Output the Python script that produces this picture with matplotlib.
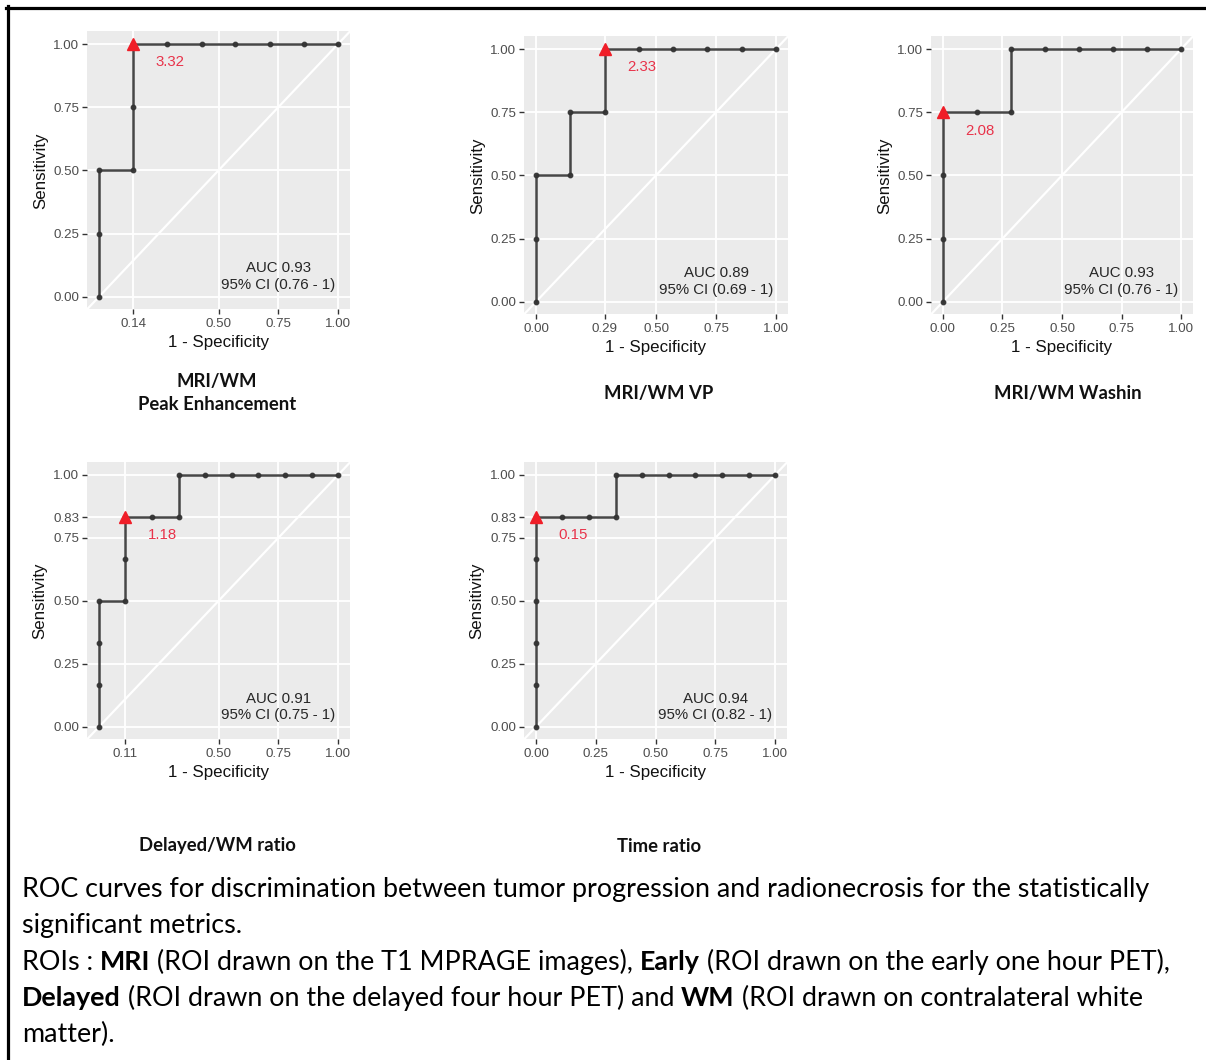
import numpy as np
import matplotlib.pyplot as plt
from matplotlib.lines import Line2D

W, H = 1206, 1060

# ---- data ----
titles = ["MRI/WM\nPeak Enhancement", "MRI/WM VP", "MRI/WM Washin",
          "Delayed/WM ratio", "Time ratio"]

fpr_pe = [0, 0, 0, 0.143, 0.143, 0.143, 0.286, 0.429, 0.571, 0.714, 0.857, 1.0]
tpr_pe = [0, 0.25, 0.5, 0.5, 0.75, 1, 1, 1, 1, 1, 1, 1]
fpr_vp = [0, 0, 0, 0.143, 0.143, 0.286, 0.286, 0.429, 0.571, 0.714, 0.857, 1.0]
tpr_vp = [0, 0.25, 0.5, 0.5, 0.75, 0.75, 1, 1, 1, 1, 1, 1]
fpr_wash = [0, 0, 0, 0, 0.143, 0.286, 0.286, 0.429, 0.571, 0.714, 0.857, 1.0]
tpr_wash = [0, 0.25, 0.5, 0.75, 0.75, 0.75, 1, 1, 1, 1, 1, 1]
fpr_del = [0, 0, 0, 0, 0.111, 0.111, 0.111, 0.222, 0.333, 0.333,
           0.444, 0.556, 0.667, 0.778, 0.889, 1.0]
tpr_del = [0, 0.167, 0.333, 0.5, 0.5, 0.667, 0.833, 0.833, 0.833, 1,
           1, 1, 1, 1, 1, 1]
fpr_time = [0, 0, 0, 0, 0, 0, 0.111, 0.222, 0.333, 0.333,
            0.444, 0.556, 0.667, 0.778, 0.889, 1.0]
tpr_time = [0, 0.167, 0.333, 0.5, 0.667, 0.833, 0.833, 0.833, 0.833, 1,
            1, 1, 1, 1, 1, 1]

fprs = [fpr_pe, fpr_vp, fpr_wash, fpr_del, fpr_time]
tprs = [tpr_pe, tpr_vp, tpr_wash, tpr_del, tpr_time]

best_fpr = [0.143, 0.286, 0.0, 0.111, 0.0]
best_tpr = [1.0, 1.0, 0.75, 0.833, 0.833]
best_label = ["3.32", "2.33", "2.08", "1.18", "0.15"]

auc = [0.93, 0.89, 0.93, 0.91, 0.94]
ci = ["0.76 - 1", "0.69 - 1", "0.76 - 1", "0.75 - 1", "0.82 - 1"]

xticks = [[0.143, 0.5, 0.75, 1.0],
          [0.0, 0.286, 0.5, 0.75, 1.0],
          [0.0, 0.25, 0.5, 0.75, 1.0],
          [0.111, 0.5, 0.75, 1.0],
          [0.0, 0.25, 0.5, 0.75, 1.0]]
yticks = [[0.0, 0.25, 0.5, 0.75, 1.0],
          [0.0, 0.25, 0.5, 0.75, 1.0],
          [0.0, 0.25, 0.5, 0.75, 1.0],
          [0.0, 0.25, 0.5, 0.75, 0.833, 1.0],
          [0.0, 0.25, 0.5, 0.75, 0.833, 1.0]]

caption = [
    [("ROC curves for discrimination between tumor progression and radionecrosis for the statistically", False)],
    [("significant metrics.", False)],
    [("ROIs : ", False), ("MRI", True), (" (ROI drawn on the T1 MPRAGE images), ", False),
     ("Early", True), (" (ROI drawn on the early one hour PET),", False)],
    [("Delayed", True), (" (ROI drawn on the delayed four hour PET) and ", False),
     ("WM", True), (" (ROI drawn on contralateral white", False)],
    [("matter).", False)],
]

# ---- layout (pixels: left, top, width, height) ----
boxes = [(87, 31.4, 263, 278), (524, 36.4, 264, 278), (931, 36.4, 262, 278),
         (87, 462.4, 263, 277), (524, 462.4, 263, 277)]
title_pos = [(217, 393), (659, 393), (1068, 393), (217, 846), (659, 846)]

GG = "Liberation Sans"
CAP = "Lato"

plt.rcParams['font.family'] = [GG, 'DejaVu Sans']

fig = plt.figure(figsize=(W / 100, H / 100), dpi=100)
fig.patch.set_facecolor('white')

for i in range(5):
    l, t, w, h = boxes[i]
    ax = fig.add_axes([l / W, 1 - (t + h) / H, w / W, h / H])
    ax.set_facecolor('#EBEBEB')
    for s in ax.spines.values():
        s.set_visible(False)
    ax.set_xlim(-0.05, 1.05)
    ax.set_ylim(-0.05, 1.05)
    ax.set_xticks(xticks[i])
    ax.set_xticklabels(["%.2f" % v for v in xticks[i]])
    ax.set_yticks(yticks[i])
    ax.set_yticklabels(["%.2f" % v for v in yticks[i]])
    ax.grid(color='white', lw=1.3)
    ax.set_axisbelow(True)
    ax.tick_params(length=3.5, width=1, color='#333333', labelcolor='#4D4D4D',
                   labelsize=9.6, pad=2)
    ax.tick_params(axis='x', pad=3)
    ax.axline((0, 0), (1, 1), color='white', lw=1.6, zorder=1)

    ax.plot(fprs[i], tprs[i], color='#333333', lw=1.8, marker='o', ms=3.2,
            zorder=3, alpha=0.9)
    ax.plot(best_fpr[i], best_tpr[i], marker='^', ms=8, color='#F01E28',
            ls='none', zorder=4)
    ax.text(best_fpr[i] + 0.155, best_tpr[i] - 0.073, best_label[i],
            color='#E8334A', fontsize=10.8, ha='center', va='center')
    ax.text(0.75, 0.08, "AUC %.2f\n95%% CI (%s)" % (auc[i], ci[i]),
            color='#262626', fontsize=10.8, ha='center', va='center',
            linespacing=1.2)

    ax.set_xlabel("1 - Specificity", fontsize=12.2, color='#111111', labelpad=3.5)
    ax.set_ylabel("Sensitivity", fontsize=12.2, color='#111111', labelpad=4)

    tx, ty = title_pos[i]
    fig.text(tx / W, 1 - ty / H, titles[i], family=CAP, fontweight='bold',
             fontsize=13.3, ha='center', va='center', color='#111111',
             linespacing=1.5)

# caption with mixed bold runs
renderer = fig.canvas.get_renderer()


def run_width(s, bold, size):
    a = fig.text(0, 0, s + "|", family=CAP, fontsize=size,
                 fontweight='bold' if bold else 'normal')
    b = fig.text(0, 0, "|", family=CAP, fontsize=size,
                 fontweight='bold' if bold else 'normal')
    w = a.get_window_extent(renderer).width - b.get_window_extent(renderer).width
    a.remove()
    b.remove()
    return w


cap_size = 19.4
y0, dy = 890, 36
for k, line in enumerate(caption):
    x = 22
    for s, bold in line:
        fig.text(x / W, 1 - (y0 + k * dy) / H, s, family=CAP, fontsize=cap_size,
                 fontweight='bold' if bold else 'normal', ha='left', va='center',
                 color='black')
        x += run_width(s, bold, cap_size)

# frame lines on top and left
fig.add_artist(Line2D([6 / W, 1], [1 - 7.5 / H, 1 - 7.5 / H], color='black', lw=2.3))
fig.add_artist(Line2D([7.5 / W, 7.5 / W], [0, 1 - 6 / H], color='black', lw=2.3))

fig.savefig("out.png", dpi=100)
